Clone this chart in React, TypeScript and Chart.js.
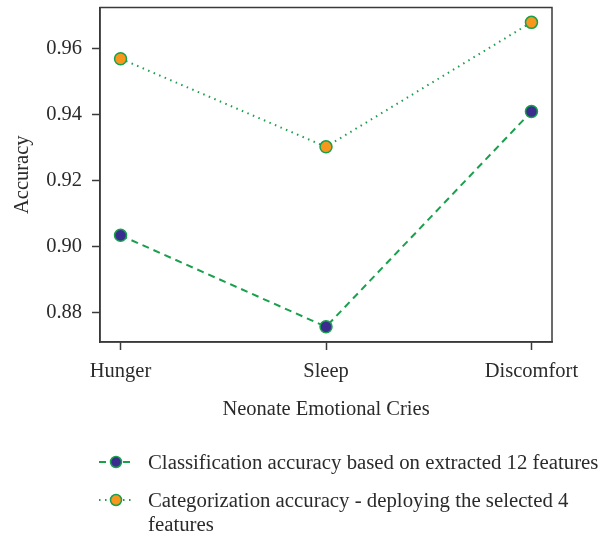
import React, { useEffect, useRef } from "react";
import { Chart, registerables } from "chart.js";

Chart.register(...registerables);

const categories = ["Hunger", "Sleep", "Discomfort"];
const series1Label = "Classification accuracy based on extracted 12 features";
const series2Label = ["Categorization accuracy - deploying the selected 4", "features"];
const series1Values = [0.9035, 0.8758, 0.941];
const series2Values = [0.957, 0.9303, 0.968];
const yTicks = [0.88, 0.9, 0.92, 0.94, 0.96];

const FONT = "'Liberation Serif', 'DejaVu Serif', serif";
const FS = 20.5;
const LFS = 20.8;
const GREEN = "#18a04c";
const BLUE = "#3b2d8f";
const ORANGE = "#f7971e";
const AXIS = "#3a3a3a";
const TEXT = "#2b2b2b";

const framePlugin = {
  id: "frame",
  afterDatasetsDraw(chart: any) {
    const { ctx, chartArea } = chart;
    ctx.save();
    ctx.strokeStyle = AXIS;
    ctx.lineWidth = 1.5;
    ctx.strokeRect(chartArea.left, chartArea.top, chartArea.right - chartArea.left, chartArea.bottom - chartArea.top);
    ctx.restore();
  },
};

const legendPlugin = {
  id: "customLegend",
  afterDraw(chart: any) {
    const { ctx } = chart;
    const items = [
      { text: [series1Label], dash: [7, 5], fill: BLUE, y: 462 },
      { text: series2Label, dash: [1.5, 4.5], fill: ORANGE, y: 500 },
    ];
    ctx.save();
    for (const it of items) {
      ctx.strokeStyle = GREEN;
      ctx.lineWidth = 2;
      ctx.setLineDash(it.dash);
      ctx.beginPath();
      ctx.moveTo(99, it.y);
      ctx.lineTo(134, it.y);
      ctx.stroke();
      ctx.setLineDash([]);
      ctx.beginPath();
      ctx.arc(116, it.y, 5.5, 0, Math.PI * 2);
      ctx.fillStyle = it.fill;
      ctx.fill();
      ctx.lineWidth = 1.5;
      ctx.stroke();
      ctx.fillStyle = TEXT;
      ctx.font = `${LFS}px ${FONT}`;
      ctx.textBaseline = "middle";
      ctx.textAlign = "left";
      it.text.forEach((t, i) => ctx.fillText(t, 148, it.y + 1.5 + i * 24));
    }
    ctx.restore();
  },
};

export default function App() {
  const ref = useRef<HTMLCanvasElement>(null);
  useEffect(() => {
    if (!ref.current) return;
    const chart = new Chart(ref.current, {
      type: "line",
      data: {
        datasets: [
          {
            label: series1Label,
            data: series1Values.map((v, i) => ({ x: i, y: v })),
            borderColor: GREEN,
            borderWidth: 2,
            borderDash: [7, 5],
            pointBackgroundColor: BLUE,
            pointBorderColor: GREEN,
            pointBorderWidth: 1.5,
            pointRadius: 6,
            fill: false,
          },
          {
            label: series2Label.join(" "),
            data: series2Values.map((v, i) => ({ x: i, y: v })),
            borderColor: GREEN,
            borderWidth: 2,
            borderDash: [1.5, 4.5],
            pointBackgroundColor: ORANGE,
            pointBorderColor: GREEN,
            pointBorderWidth: 1.5,
            pointRadius: 6,
            fill: false,
          },
        ],
      },
      options: {
        animation: false,
        responsive: true,
        maintainAspectRatio: false,
        layout: { padding: { top: 6, right: 54, bottom: 110, left: 0 } },
        plugins: { legend: { display: false }, tooltip: { enabled: false } },
        scales: {
          x: {
            type: "linear",
            min: -0.1,
            max: 2.1,
            afterBuildTicks: (s: any) => {
              s.ticks = categories.map((_, i) => ({ value: i }));
            },
            afterFit: (s: any) => {
              s.height = 85;
              s.paddingLeft = 0;
              s.paddingRight = 0;
            },
            ticks: {
              callback: (v: any) => categories[v as number] ?? "",
              color: TEXT,
              font: { family: FONT, size: FS },
              padding: 9,
              maxRotation: 0,
            },
            grid: { drawOnChartArea: false, tickLength: 8, color: AXIS, tickWidth: 1.5 },
            border: { color: AXIS, width: 1.5 },
            title: {
              display: true,
              text: "Neonate Emotional Cries",
              color: TEXT,
              font: { family: FONT, size: FS },
              padding: { top: 0, bottom: 5 },
            },
          },
          y: {
            min: 0.8712,
            max: 0.9725,
            afterBuildTicks: (s: any) => {
              s.ticks = yTicks.map((v) => ({ value: v }));
            },
            afterFit: (s: any) => {
              s.width = 100;
              s.paddingTop = 0;
              s.paddingBottom = 0;
            },
            ticks: {
              callback: (v: any) => Number(v).toFixed(2),
              color: TEXT,
              font: { family: FONT, size: FS },
              padding: 10,
            },
            grid: { drawOnChartArea: false, tickLength: 8, color: AXIS, tickWidth: 1.5 },
            border: { color: AXIS, width: 1.5 },
            title: {
              display: true,
              text: "Accuracy",
              color: TEXT,
              font: { family: FONT, size: FS },
              padding: { top: 10, bottom: 0 },
            },
          },
        },
      },
      plugins: [framePlugin, legendPlugin],
    } as any);
    return () => chart.destroy();
  }, []);
  return (
    <div style={{ position: "fixed", left: 0, top: 0, width: 606, height: 537, background: "#fff" }}>
      <canvas ref={ref} />
    </div>
  );
}
